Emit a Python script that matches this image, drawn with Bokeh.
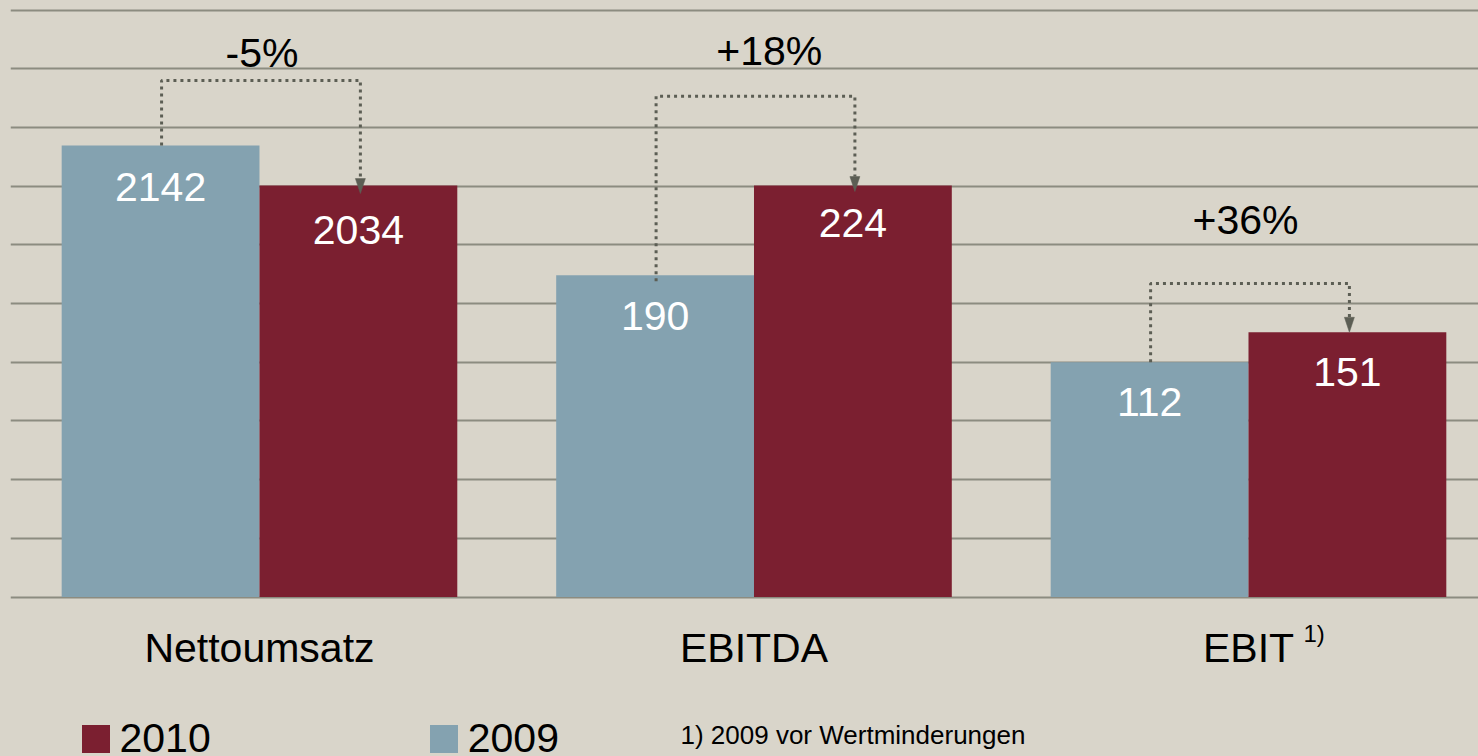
from bokeh.plotting import figure
from bokeh.models import Range1d, FixedTicker, Grid, ColumnDataSource, Legend, LegendItem
from bokeh.core.properties import value
from bokeh.embed import file_html
from bokeh.resources import INLINE

# ---------------- data ----------------
categories = ["Nettoumsatz", "EBITDA", "EBIT"]
values_2009 = [2142, 190, 112]
values_2010 = [2034, 224, 151]
# bar heights as drawn in the source (in gridline steps; groups are not on one common scale)
heights_2009 = [7.69, 5.48, 4.00]
heights_2010 = [7.01, 7.01, 4.51]
changes = ["-5%", "+18%", "+36%"]
series_names = ["2010", "2009"]
footnote_mark = "1)"
footnote = "1) 2009 vor Wertminderungen"
grid_ticks = list(range(11))

# ---------------- style / layout ----------------
BG = "#d9d5ca"
C09 = "#84a2b0"
C10 = "#7b1f30"
GRID = "#8c8c80"
DOT = "#5c5e54"
FONT = "Liberation Sans"

W, H = 1470, 748
BORDER_LEFT = 2
X0, X1 = -0.5035, 2.4651
Y0, Y1 = -2.717, 10.026
PX_X = (W - BORDER_LEFT) / (X1 - X0)   # pixels per x unit
PX_Y = H / (Y1 - Y0)                   # pixels per y unit
BASE_FIX = 0.38                        # baseline correction (fraction of font size)


def fix(y, size):
    return y + BASE_FIX * size / PX_Y


idx = list(range(len(categories)))
x09 = [i - 0.2 for i in idx]
x10 = [i + 0.2 for i in idx]

p = figure(width=W, height=H, output_backend="svg", toolbar_location=None,
           x_range=Range1d(X0, X1), y_range=Range1d(Y0, Y1),
           x_axis_location=None, y_axis_location=None,
           min_border_left=BORDER_LEFT, min_border_right=0,
           min_border_top=0, min_border_bottom=0)
p.background_fill_color = BG
p.border_fill_color = BG
p.outline_line_color = None
p.grid.visible = False
p.add_layout(Grid(dimension=1, ticker=FixedTicker(ticks=grid_ticks),
                  grid_line_color=GRID, grid_line_width=2))

src09 = ColumnDataSource(dict(x=x09, top=heights_2009))
src10 = ColumnDataSource(dict(x=x10, top=heights_2010))
r09 = p.vbar(x="x", top="top", bottom=0, width=0.4, source=src09,
             fill_color=C09, line_color=None)
r10 = p.vbar(x="x", top="top", bottom=0, width=0.4, source=src10,
             fill_color=C10, line_color=None)

# value labels inside bars
off09 = [57, 56, 55]
off10 = [60, 53, 55]
p.text(x=x09, y=[fix(t - o / PX_Y, 41) for t, o in zip(heights_2009, off09)],
       text=[str(v) for v in values_2009], text_align="center", text_baseline="alphabetic",
       text_color="white", text_font=value(FONT), text_font_size="41px")
p.text(x=x10, y=[fix(t - o / PX_Y, 41) for t, o in zip(heights_2010, off10)],
       text=[str(v) for v in values_2010], text_align="center", text_baseline="alphabetic",
       text_color="white", text_font=value(FONT), text_font_size="41px")

# dotted brackets with arrows
bracket_y = [8.80, 8.53, 5.34]
gap_left = [0, 6, 0]
gap_right = [8, 6, 0]
HEAD_W, HEAD_L = 10, 15
xs, ys, hx, hy = [], [], [], []
for i in idx:
    xl = x09[i] + 1 / PX_X
    xr = x10[i] + 2 / PX_X
    yl = heights_2009[i] - gap_left[i] / PX_Y
    tip = heights_2010[i] - gap_right[i] / PX_Y
    base = tip + HEAD_L / PX_Y
    xs.append([xl, xl, xr, xr])
    ys.append([yl, bracket_y[i], bracket_y[i], base])
    hx.append([xr - HEAD_W / 2 / PX_X, xr + HEAD_W / 2 / PX_X, xr])
    hy.append([base, base, tip])
p.multi_line(xs=xs, ys=ys, line_color=DOT, line_width=3, line_dash="3 4")
p.patches(xs=hx, ys=hy, fill_color=DOT, line_color=DOT, line_width=0.5)

# change labels
pct_x = [0.005, 1.031, 1.994]
pct_y = [9.00, 9.03, 6.16]
p.text(x=pct_x, y=[fix(y, 41) for y in pct_y], text=changes, text_align="center",
       text_baseline="alphabetic", text_color="black", text_font=value(FONT),
       text_font_size="41px")

# category labels
p.text(x=idx, y=[fix(-1.133, 41)] * len(idx), text=categories, text_align="center",
       text_baseline="alphabetic", text_color="black", text_font=value(FONT),
       text_font_size="41px")
p.text(x=[2 + 55 / PX_X], y=[fix(-0.775, 24)], text=[footnote_mark], text_align="left",
       text_baseline="alphabetic", text_color="black", text_font=value(FONT),
       text_font_size="24px")

# footnote
p.text(x=[1 + (680 - 753.5) / PX_X], y=[fix(-2.513, 26)], text=[footnote],
       text_align="left", text_baseline="alphabetic", text_color="black",
       text_font=value(FONT), text_font_size="26px")

# legend (bar legend glyphs are inset by 10% on each side)
legend = Legend(items=[LegendItem(label=series_names[0], renderers=[r10]),
                       LegendItem(label=series_names[1], renderers=[r09])],
                orientation="horizontal", location=(67.5, -6),
                glyph_width=35, glyph_height=35, label_standoff=7, spacing=215,
                label_text_font=FONT, label_text_font_size="41px",
                label_text_color="black", padding=0, margin=0,
                border_line_alpha=0, background_fill_alpha=0)
p.add_layout(legend)

html = file_html(p, INLINE, title="Kennzahlen 2010 vs 2009")
html = html.replace("</head>",
                    "<style>html,body{background:%s;overflow:hidden;}"
                    "body{margin:8px 0 0 8px;}</style></head>" % BG, 1)
open("out.html", "w").write(html)
